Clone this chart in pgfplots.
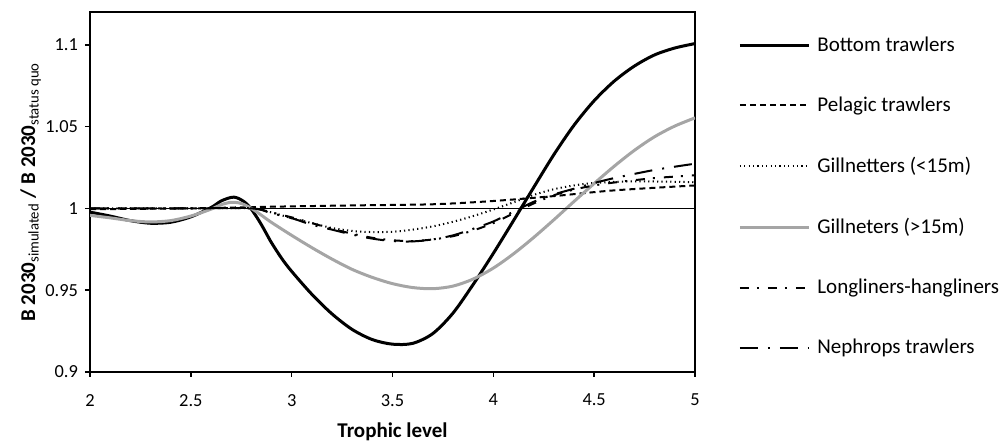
\documentclass[border=0pt]{standalone}
\usepackage{pgfplots}
\pgfplotsset{compat=1.18}
\usepackage{fontspec}
\setmainfont{Carlito}
\definecolor{lgray}{RGB}{165,165,165}
\begin{document}
\begin{tikzpicture}
\useasboundingbox (-45pt,-35.5pt) rectangle (457.5pt,186pt);
\begin{axis}[
  scale only axis,
  width=302.5pt, height=180pt,
  xmin=2, xmax=5, ymin=0.9, ymax=1.12,
  xtick={2,2.5,3,3.5,4,4.5,5},
  ytick={0.9,0.95,1,1.05,1.1},
  xticklabels={2,2.5,3,3.5,4,4.5,5},
  yticklabels={0.9,0.95,1,1.05,1.1},
  xtick pos=left, ytick pos=left,
  tick align=outside,
  major tick length=2.5pt,
  axis line style={line width=0.8pt},
  tick style={line width=0.8pt, black},
  tick label style={font=\fontsize{9.2}{11}\selectfont},
  x tick label style={yshift=-5pt},
  xlabel={\textbf{Trophic level}},
  ylabel={\textbf{B 2030}\textsubscript{simulated}\textbf{ / B 2030}\textsubscript{status quo}},
  label style={font=\fontsize{10.5}{12}\selectfont},
  xlabel style={at={(axis description cs:0.5,-0.167)}, anchor=center},
  ylabel style={at={(axis description cs:-0.098,0.5)}, anchor=center},
  legend style={at={(rel axis cs:1.071,0.933)}, anchor=north west, draw=none, fill=none,
    font=\fontsize{10.5}{12}\selectfont, row sep=21.3pt, column sep=3.5pt, inner sep=0pt,
    nodes={inner sep=0pt}},
  legend cell align=left,
  legend image code/.code={\draw[#1] (0pt,0pt) -- (34.5pt,0pt);},
  clip=true,
]
\addplot[black, line width=1.5pt, smooth] coordinates {
(2.0,0.9977)(2.1,0.9953)(2.2,0.9925)(2.3,0.9909)(2.4,0.9915)(2.5,0.9948)(2.6,1.0005)(2.65,1.0045)(2.7,1.0067)(2.725,1.0066)(2.75,1.0052)(2.775,1.003)(2.8,0.9995)(2.825,0.995)(2.85,0.990)(2.875,0.9845)(2.9,0.979)(2.95,0.9695)(3.0,0.9615)(3.1,0.9475)(3.2,0.9355)(3.3,0.926)(3.4,0.9198)(3.5,0.917)(3.6,0.9175)(3.7,0.9235)(3.8,0.936)(3.9,0.9535)(4.0,0.9725)(4.1,0.9925)(4.2,1.0128)(4.3,1.0328)(4.4,1.0508)(4.5,1.0658)(4.6,1.0778)(4.7,1.0870)(4.8,1.0938)(4.9,1.0980)(5.0,1.1007)};
\addlegendentry{Bottom trawlers}
\addplot[black, line width=1pt, dash pattern=on 3pt off 2pt, smooth] coordinates {
(2.0,0.9995)(2.5,1.0)(2.9,1.001)(3.3,1.0018)(3.7,1.0025)(4.0,1.0045)(4.3,1.0075)(4.6,1.011)(5.0,1.014)};
\addlegendentry{Pelagic trawlers}
\addplot[black, line width=1pt, dash pattern=on 0.6pt off 1.6pt, smooth] coordinates {
(2.0,1.0)(2.5,1.0)(2.8,1.0)(2.9,0.9975)(3.0,0.994)(3.1,0.991)(3.2,0.988)(3.3,0.9862)(3.4,0.9855)(3.5,0.9857)(3.6,0.987)(3.7,0.989)(3.8,0.9918)(3.9,0.9953)(4.0,0.9993)(4.1,1.0037)(4.2,1.0082)(4.3,1.0117)(4.4,1.014)(4.5,1.0155)(4.7,1.0165)(5.0,1.016)};
\addlegendentry{Gillnetters (<15m)}
\addplot[lgray, line width=1.5pt, smooth] coordinates {
(2.0,0.9957)(2.1,0.9942)(2.2,0.9925)(2.3,0.9917)(2.4,0.9925)(2.5,0.9953)(2.6,0.9995)(2.65,1.0022)(2.7,1.0037)(2.75,1.0030)(2.8,1.0000)(2.85,0.9958)(2.9,0.9914)(3.0,0.9835)(3.1,0.9760)(3.2,0.9690)(3.3,0.9627)(3.4,0.9578)(3.5,0.9540)(3.6,0.9516)(3.7,0.9509)(3.8,0.9525)(3.9,0.9568)(4.0,0.9635)(4.1,0.9722)(4.2,0.9822)(4.3,0.9930)(4.4,1.0042)(4.5,1.0152)(4.6,1.0258)(4.7,1.0355)(4.8,1.0438)(4.9,1.0503)(5.0,1.0553)};
\addlegendentry{Gillneters (>15m)}
\addplot[black, line width=1pt, dash pattern=on 4.5pt off 4pt on 1pt off 4.5pt, smooth] coordinates {
(2.0,1.0)(2.5,1.0)(2.8,1.0)(2.9,0.9975)(3.0,0.9945)(3.1,0.991)(3.2,0.9875)(3.3,0.9845)(3.4,0.982)(3.5,0.9805)(3.6,0.980)(3.7,0.981)(3.8,0.983)(3.9,0.9865)(4.0,0.991)(4.1,0.997)(4.2,1.003)(4.3,1.008)(4.4,1.0115)(4.5,1.014)(4.6,1.0158)(4.8,1.0185)(5.0,1.0202)};
\addlegendentry{Longliners-hangliners}
\addplot[black, line width=1pt, dash pattern=on 9pt off 5pt on 1pt off 5pt, smooth] coordinates {
(2.0,1.0)(2.5,1.0)(2.8,1.0)(2.9,0.997)(3.0,0.994)(3.1,0.990)(3.2,0.987)(3.3,0.984)(3.4,0.9815)(3.5,0.980)(3.6,0.9798)(3.7,0.981)(3.8,0.9835)(3.9,0.9875)(4.0,0.992)(4.1,0.998)(4.2,1.004)(4.3,1.0085)(4.4,1.012)(4.5,1.0155)(4.6,1.0185)(4.8,1.0235)(5.0,1.0273)};
\addlegendentry{Nephrops trawlers}
\addplot[black, line width=0.5pt, forget plot] coordinates {(2,1)(5,1)};
\end{axis}
\end{tikzpicture}
\end{document}
